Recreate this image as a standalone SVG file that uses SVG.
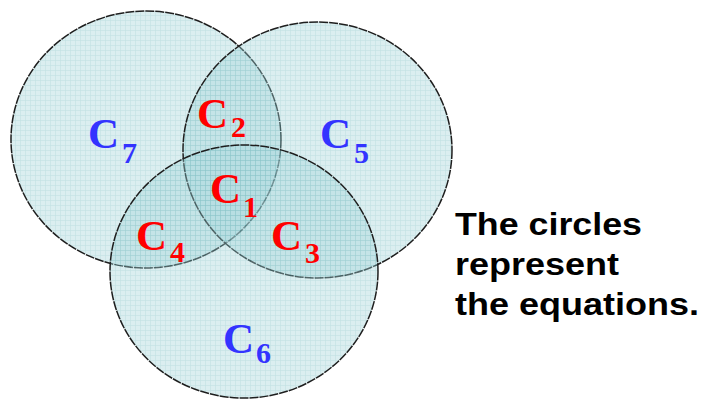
<svg xmlns="http://www.w3.org/2000/svg" width="704" height="399" viewBox="0 0 704 399">
<defs>
<pattern id="grid" width="5" height="5" patternUnits="userSpaceOnUse">
<rect width="5" height="5" fill="rgb(165,213,218)"/>
<path d="M0 0.3H5M0.3 0V5" stroke="rgb(105,180,186)" stroke-width="0.8" fill="none"/>
</pattern>
</defs>
<style>
.eq{fill:url(#grid);fill-opacity:0.4;stroke:#1e1e1e;stroke-width:1.5;stroke-dasharray:9 1}
.c{font-family:"Liberation Serif","Times New Roman",serif;font-weight:bold;font-size:43px}
.s{font-family:"Liberation Serif","Times New Roman",serif;font-weight:bold;font-size:30px}
.red{fill:#ff0000}
.blue{fill:#3333ff}
.note{font-family:"Liberation Sans",Arial,sans-serif;font-weight:bold;font-size:31px;fill:#000}
</style>
<rect width="704" height="399" fill="#ffffff"/>
<g id="circle7"><ellipse class="eq" cx="146" cy="139.5" rx="135" ry="128.5"/></g>
<g id="circle5"><ellipse class="eq" cx="317.5" cy="150" rx="134.5" ry="128"/></g>
<g id="circle6"><ellipse class="eq" cx="244" cy="271.5" rx="134" ry="126.5"/></g>
<g id="connectors"></g>
<g id="labels">
<g id="C7"><text class="c blue" x="88" y="148">C</text><text class="s blue" x="122" y="163">7</text></g>
<g id="C2"><text class="c red" x="197" y="128">C</text><text class="s red" x="231" y="137">2</text></g>
<g id="C5"><text class="c blue" x="320" y="148">C</text><text class="s blue" x="354" y="163">5</text></g>
<g id="C1"><text class="c red" x="210" y="203">C</text><text class="s red" x="243" y="217">1</text></g>
<g id="C4"><text class="c red" x="136" y="250">C</text><text class="s red" x="170" y="262">4</text></g>
<g id="C3"><text class="c red" x="271" y="250">C</text><text class="s red" x="305" y="263">3</text></g>
<g id="C6"><text class="c blue" x="223" y="353">C</text><text class="s blue" x="256" y="363">6</text></g>
</g>
<g id="note">
<text class="note" x="455" y="235" textLength="187" lengthAdjust="spacingAndGlyphs">The circles</text>
<text class="note" x="455" y="275" textLength="164" lengthAdjust="spacingAndGlyphs">represent</text>
<text class="note" x="455" y="315" textLength="244" lengthAdjust="spacingAndGlyphs">the equations.</text>
</g>
</svg>
